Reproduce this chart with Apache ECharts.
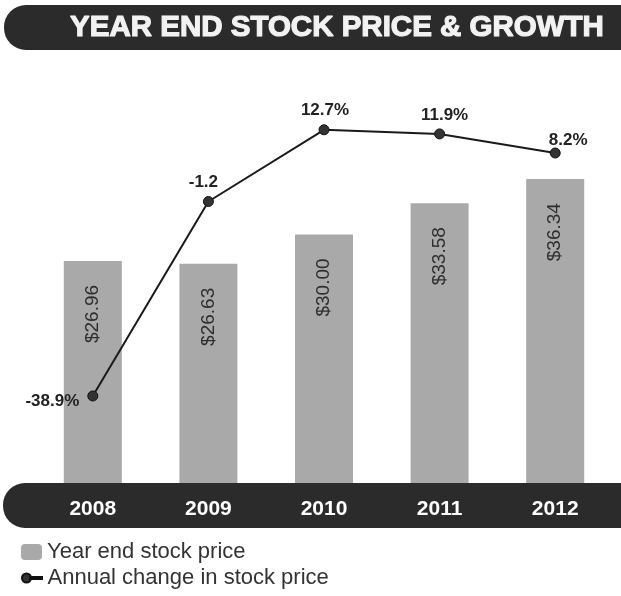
<!DOCTYPE html>
<html>
<head>
<meta charset="utf-8">
<script src="https://cdn.jsdelivr.net/npm/echarts@6/dist/echarts.min.js"></script>
<style>html,body{margin:0;padding:0;background:#fff}#c{width:621px;height:596px}</style>
</head>
<body>
<div id="c"></div>
<script>
const titleText = 'YEAR END STOCK PRICE & GROWTH';
const years = ['2008', '2009', '2010', '2011', '2012'];
const prices = [26.96, 26.63, 30.00, 33.58, 36.34];
const priceLabels = ['$26.96', '$26.63', '$30.00', '$33.58', '$36.34'];
const changes = [-38.9, -1.2, 12.7, 11.9, 8.2];
const changeLabels = ['-38.9%', '-1.2', '12.7%', '11.9%', '8.2%'];
const seriesNames = ['Year end stock price', 'Annual change in stock price'];

const chart = echarts.init(document.getElementById('c'), null, {renderer: 'canvas'});

const labelOffsets = [[0, 5], [-5, 0], [1, 0], [5, 0], [13, 6]];
const lineData = changes.map((v, i) => {
  if (i === 0) {
    return {value: v, label: {position: 'left', distance: 8, offset: labelOffsets[i]}};
  }
  return {value: v, label: {position: 'top', distance: 5, offset: labelOffsets[i]}};
});

chart.setOption({
  animation: false,
  backgroundColor: '#ffffff',
  grid: {left: 35, right: 8, top: 60, bottom: 100},
  xAxis: {
    type: 'category',
    data: years,
    z: 6,
    axisLine: {show: false},
    axisTick: {show: false},
    axisLabel: {color: '#ffffff', fontFamily: 'Liberation Sans', fontWeight: 'bold', fontSize: 21, margin: 3}
  },
  yAxis: [
    {type: 'value', min: 0, max: 50, show: false, splitLine: {show: false}},
    {type: 'value', min: -58.29, max: 26.23, show: false, splitLine: {show: false}}
  ],
  legend: [
    {
      data: [seriesNames[0]], orient: 'vertical', left: 16, top: 536,
      itemWidth: 21, itemHeight: 16, itemGap: 6,
      textStyle: {color: '#333', fontFamily: 'Liberation Sans', fontSize: 22}
    },
    {
      data: [{name: seriesNames[1], icon: 'path://M0,4.5 A4.5,4.5 0 1,1 9,4.5 A4.5,4.5 0 1,1 0,4.5 Z M8,3.5 L20,3.5 L20,5.5 L8,5.5 Z'}],
      orient: 'vertical', left: 16, top: 562,
      itemWidth: 21, itemHeight: 9,
      textStyle: {color: '#333', fontFamily: 'Liberation Sans', fontSize: 22}
    }
  ],
  graphic: [
    {type: 'rect', z: 5, shape: {x: 4, y: 5, width: 640, height: 45, r: 22}, style: {fill: '#2b2b2b'}},
    {type: 'text', z: 6, x: 337, y: 28, style: {text: titleText, fill: '#f2f2f2', stroke: '#f2f2f2', lineWidth: 1.2, font: 'bold 29.5px "Liberation Sans"', textAlign: 'center', textVerticalAlign: 'middle'}},
    {type: 'rect', z: 5, shape: {x: 3, y: 483, width: 640, height: 45, r: 22}, style: {fill: '#2b2b2b'}}
  ],
  series: [
    {
      name: seriesNames[0],
      type: 'bar',
      yAxisIndex: 0,
      data: prices,
      barWidth: 58,
      itemStyle: {color: '#a9a9a9'},
      label: {
        show: true, position: 'insideTop', rotate: 90, align: 'right', verticalAlign: 'middle', distance: 24,
        color: '#2e2e2e', fontFamily: 'Liberation Sans', fontSize: 19,
        formatter: p => priceLabels[p.dataIndex]
      }
    },
    {
      name: seriesNames[1],
      type: 'line',
      yAxisIndex: 1,
      data: lineData,
      symbol: 'circle',
      symbolSize: 10,
      lineStyle: {color: '#1a1a1a', width: 2},
      itemStyle: {color: '#333333', borderColor: '#111', borderWidth: 1},
      label: {
        show: true, color: '#222', fontFamily: 'Liberation Sans', fontWeight: 'bold', fontSize: 17,
        formatter: p => changeLabels[p.dataIndex]
      }
    }
  ]
});
</script>
</body>
</html>
